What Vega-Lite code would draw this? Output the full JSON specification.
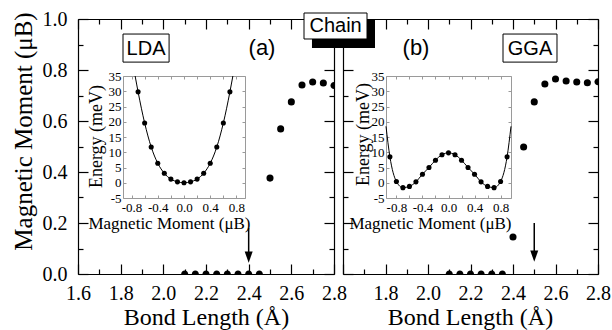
{
  "$schema": "https://vega.github.io/schema/vega-lite/v6.json",
  "width": 612,
  "height": 330,
  "padding": 0,
  "autosize": "none",
  "background": "white",
  "config": {
    "font": "Liberation Serif",
    "view": {"stroke": null},
    "axis": {
      "grid": false,
      "labelFont": "Liberation Serif",
      "titleFont": "Liberation Serif",
      "labelColor": "black",
      "titleColor": "black",
      "titleFontWeight": "normal",
      "labelFlush": false,
      "labelOverlap": false,
      "labelBound": false
    }
  },
  "datasets": {
    "lda": [
      {"bond": 2.1, "moment": 0}, {"bond": 2.15, "moment": 0}, {"bond": 2.2, "moment": 0},
      {"bond": 2.25, "moment": 0}, {"bond": 2.3, "moment": 0}, {"bond": 2.35, "moment": 0},
      {"bond": 2.4, "moment": 0}, {"bond": 2.45, "moment": 0}, {"bond": 2.5, "moment": 0.376},
      {"bond": 2.55, "moment": 0.569}, {"bond": 2.6, "moment": 0.675}, {"bond": 2.65, "moment": 0.741},
      {"bond": 2.7, "moment": 0.753}, {"bond": 2.75, "moment": 0.749}, {"bond": 2.8, "moment": 0.739}
    ],
    "gga": [
      {"bond": 2.1, "moment": 0}, {"bond": 2.15, "moment": 0}, {"bond": 2.2, "moment": 0},
      {"bond": 2.25, "moment": 0}, {"bond": 2.3, "moment": 0}, {"bond": 2.35, "moment": 0},
      {"bond": 2.4, "moment": 0.145}, {"bond": 2.45, "moment": 0.498}, {"bond": 2.5, "moment": 0.675},
      {"bond": 2.55, "moment": 0.745}, {"bond": 2.6, "moment": 0.765}, {"bond": 2.65, "moment": 0.757},
      {"bond": 2.7, "moment": 0.753}, {"bond": 2.75, "moment": 0.75}, {"bond": 2.8, "moment": 0.754}
    ],
    "ldaInset": [
      {"mu": -0.7, "energy": 29.8}, {"mu": -0.6, "energy": 19.6}, {"mu": -0.5, "energy": 11.7},
      {"mu": -0.4, "energy": 6.4}, {"mu": -0.3, "energy": 3.1}, {"mu": -0.2, "energy": 1.2},
      {"mu": -0.1, "energy": 0.3}, {"mu": 0.0, "energy": 0.0}, {"mu": 0.1, "energy": 0.3},
      {"mu": 0.2, "energy": 1.2}, {"mu": 0.3, "energy": 3.1}, {"mu": 0.4, "energy": 6.4},
      {"mu": 0.5, "energy": 11.7}, {"mu": 0.6, "energy": 19.6}, {"mu": 0.7, "energy": 29.8}
    ],
    "ldaCurve": [
      {"mu": -0.745, "energy": 35}, {"mu": -0.7, "energy": 29.8}, {"mu": -0.6, "energy": 19.6},
      {"mu": -0.5, "energy": 11.7}, {"mu": -0.4, "energy": 6.4}, {"mu": -0.3, "energy": 3.1},
      {"mu": -0.2, "energy": 1.2}, {"mu": -0.1, "energy": 0.3}, {"mu": 0.0, "energy": 0.0},
      {"mu": 0.1, "energy": 0.3}, {"mu": 0.2, "energy": 1.2}, {"mu": 0.3, "energy": 3.1},
      {"mu": 0.4, "energy": 6.4}, {"mu": 0.5, "energy": 11.7}, {"mu": 0.6, "energy": 19.6},
      {"mu": 0.7, "energy": 29.8}, {"mu": 0.745, "energy": 35}
    ],
    "ggaInset": [
      {"mu": -0.9, "energy": 8.5}, {"mu": -0.8, "energy": 0.4}, {"mu": -0.7, "energy": -1.6},
      {"mu": -0.6, "energy": -1.2}, {"mu": -0.5, "energy": 0.3}, {"mu": -0.4, "energy": 2.8},
      {"mu": -0.3, "energy": 5.0}, {"mu": -0.2, "energy": 7.4}, {"mu": -0.1, "energy": 9.2},
      {"mu": 0.0, "energy": 9.8}, {"mu": 0.1, "energy": 9.2}, {"mu": 0.2, "energy": 7.4},
      {"mu": 0.3, "energy": 5.0}, {"mu": 0.4, "energy": 2.8}, {"mu": 0.5, "energy": 0.3},
      {"mu": 0.6, "energy": -1.2}, {"mu": 0.7, "energy": -1.6}, {"mu": 0.8, "energy": 0.4},
      {"mu": 0.9, "energy": 8.5}
    ],
    "ggaCurve": [
      {"mu": -0.96, "energy": 18.5}, {"mu": -0.9, "energy": 8.5}, {"mu": -0.8, "energy": 0.4},
      {"mu": -0.7, "energy": -1.6}, {"mu": -0.6, "energy": -1.2}, {"mu": -0.5, "energy": 0.3},
      {"mu": -0.4, "energy": 2.8}, {"mu": -0.3, "energy": 5.0}, {"mu": -0.2, "energy": 7.4},
      {"mu": -0.1, "energy": 9.2}, {"mu": 0.0, "energy": 9.8}, {"mu": 0.1, "energy": 9.2},
      {"mu": 0.2, "energy": 7.4}, {"mu": 0.3, "energy": 5.0}, {"mu": 0.4, "energy": 2.8},
      {"mu": 0.5, "energy": 0.3}, {"mu": 0.6, "energy": -1.2}, {"mu": 0.7, "energy": -1.6},
      {"mu": 0.8, "energy": 0.4}, {"mu": 0.9, "energy": 8.5}, {"mu": 0.96, "energy": 18.5}
    ]
  },
  "layer": [
    {
      "layer": [
        {
          "data": {"name": "lda"},
          "mark": {"type": "point", "filled": true, "color": "black", "opacity": 1, "size": 50},
          "encoding": {
            "x": {"field": "bond", "type": "quantitative",
              "scale": {"domain": [1.6, 2.8], "range": [78, 334], "nice": false, "zero": false},
              "axis": {"orient": "bottom", "offset": -56,
                "values": [1.6, 1.7, 1.8, 1.9, 2.0, 2.1, 2.2, 2.3, 2.4, 2.5, 2.6, 2.7, 2.8],
                "labelExpr": "round(datum.value*10)%2==0 ? format(datum.value,'.1f') : ''",
                "tickSize": {"condition": {"test": "round(datum.value*10)%2==0", "value": -10}, "value": -5},
                "labelFont": "Liberation Serif", "titleFont": "Liberation Serif",
                "labelPadding": 19, "labelFontSize": 20, "domainColor": "black", "tickColor": "black",
                "domainWidth": 1.2, "tickWidth": 1.2,
                "title": "Bond Length (Å)", "titleFontSize": 24, "titleX": 206, "titleY": 50,
                "titleBaseline": "alphabetic", "titleAlign": "center", "titleAngle": 0}},
            "y": {"field": "moment", "type": "quantitative",
              "scale": {"domain": [0, 1], "range": [274, 19], "nice": false, "zero": false},
              "axis": {"orient": "left", "offset": -78,
                "values": [0, 0.1, 0.2, 0.3, 0.4, 0.5, 0.6, 0.7, 0.8, 0.9, 1.0],
                "labelExpr": "round(datum.value*10)%2==0 ? format(datum.value,'.1f') : ''",
                "tickSize": {"condition": {"test": "round(datum.value*10)%2==0", "value": -10}, "value": -5},
                "labelFont": "Liberation Serif", "titleFont": "Liberation Serif",
                "labelPadding": 21, "labelFontSize": 20, "domainColor": "black", "tickColor": "black",
                "domainWidth": 1.2, "tickWidth": 1.2,
                "title": "Magnetic Moment (μB)", "titleFontSize": 25, "titleX": -47, "titleY": 131,
                "titleBaseline": "alphabetic", "titleAlign": "center", "titleAngle": -90}},
            "shape": {"condition": [
                {"test": "datum.moment == 0", "value": "M-1,0A1,1,0,0,1,1,0Z"},
                {"test": "datum.bond >= 2.79", "value": "M0,-1A1,1,0,0,0,0,1Z"}
              ], "value": "circle"}
          }
        },
        {
          "data": {"name": "lda"},
          "mark": {"type": "point", "opacity": 0},
          "encoding": {
            "x": {"field": "bond", "type": "quantitative",
              "axis": {"orient": "top", "offset": -19,
                "values": [1.6, 1.7, 1.8, 1.9, 2.0, 2.1, 2.2, 2.3, 2.4, 2.5, 2.6, 2.7, 2.8],
                "labels": false, "title": null,
                "tickSize": {"condition": {"test": "round(datum.value*10)%2==0", "value": -10}, "value": -5},
                "domainColor": "black", "tickColor": "black", "domainWidth": 1.2, "tickWidth": 1.2}},
            "y": {"field": "moment", "type": "quantitative",
              "axis": {"orient": "right", "offset": -278,
                "values": [0, 0.1, 0.2, 0.3, 0.4, 0.5, 0.6, 0.7, 0.8, 0.9, 1.0],
                "labels": false, "title": null,
                "tickSize": {"condition": {"test": "round(datum.value*10)%2==0", "value": -10}, "value": -5},
                "domainColor": "black", "tickColor": "black", "domainWidth": 1.2, "tickWidth": 1.2}}
          }
        },
        {
          "data": {"values": [{}]},
          "mark": {"type": "rule", "color": "black", "strokeWidth": 1.5},
          "encoding": {
            "x": {"datum": 2.4, "type": "quantitative", "axis": null},
            "y": {"datum": 0.18, "type": "quantitative", "axis": null},
            "y2": {"datum": 0.066}
          }
        },
        {
          "data": {"values": [{}]},
          "mark": {"type": "point", "filled": true, "color": "black", "opacity": 1, "size": 130, "shape": "M-0.7,-1L0.7,-1L0,1Z"},
          "encoding": {
            "x": {"datum": 2.4, "type": "quantitative", "axis": null},
            "y": {"datum": 0.066, "type": "quantitative", "axis": null}
          }
        },
        {
          "data": {"values": [{}]},
          "mark": {"type": "rect", "fill": "white", "stroke": "black", "strokeWidth": 1},
          "encoding": {
            "x": {"datum": 1.811, "type": "quantitative", "axis": null},
            "x2": {"datum": 2.027},
            "y": {"datum": 0.941, "type": "quantitative", "axis": null},
            "y2": {"datum": 0.831}
          }
        },
        {
          "data": {"values": [{}]},
          "mark": {"type": "text", "text": "LDA", "font": "Liberation Sans", "fontSize": 20, "color": "black", "align": "center", "baseline": "middle"},
          "encoding": {
            "x": {"datum": 1.919, "type": "quantitative", "axis": null},
            "y": {"datum": 0.884, "type": "quantitative", "axis": null}
          }
        },
        {
          "data": {"values": [{}]},
          "mark": {"type": "text", "text": "(a)", "font": "Liberation Sans", "fontSize": 22, "color": "black", "align": "center", "baseline": "middle"},
          "encoding": {
            "x": {"datum": 2.4625, "type": "quantitative", "axis": null},
            "y": {"datum": 0.886, "type": "quantitative", "axis": null}
          }
        }
      ],
      "resolve": {"axis": {"x": "independent", "y": "independent"}}
    },
    {
      "layer": [
        {
          "data": {"name": "ldaCurve"},
          "mark": {"type": "line", "color": "black", "strokeWidth": 1, "interpolate": "monotone"},
          "encoding": {
            "x": {"field": "mu", "type": "quantitative",
              "scale": {"domain": [-0.93, 0.93], "range": [123, 245], "nice": false, "zero": false},
              "axis": {"orient": "bottom", "offset": -132,
                "values": [-0.8, -0.6, -0.4, -0.2, 0, 0.2, 0.4, 0.6, 0.8],
                "labelExpr": "round(datum.value*10)%4==0 ? replace(format(datum.value,'.1f'),'−','-') : ''",
                "labelFont": "Liberation Serif", "titleFont": "Liberation Serif",
                "tickSize": -3, "labelPadding": 6, "labelFontSize": 13,
                "domainColor": "#9a9a9a", "tickColor": "#9a9a9a", "domainWidth": 1, "tickWidth": 1,
                "title": "Magnetic Moment (μB)", "titleFontSize": 17, "titleX": 169, "titleY": 30,
                "titleBaseline": "alphabetic", "titleAlign": "center", "titleAngle": 0}},
            "y": {"field": "energy", "type": "quantitative",
              "scale": {"domain": [-5, 35], "range": [198, 76], "nice": false, "zero": false},
              "axis": {"orient": "left", "offset": -123,
                "values": [-5, 0, 5, 10, 15, 20, 25, 30, 35],
                "labelExpr": "replace(format(datum.value,'d'),'−','-')",
                "labelFont": "Liberation Serif", "titleFont": "Liberation Serif",
                "tickSize": -3, "labelPadding": 5, "labelFontSize": 13,
                "domainColor": "#9a9a9a", "tickColor": "#9a9a9a", "domainWidth": 1, "tickWidth": 1,
                "title": "Energy (meV)", "titleFontSize": 18, "titleX": -22, "titleY": 136,
                "titleBaseline": "alphabetic", "titleAlign": "center", "titleAngle": -90}}
          }
        },
        {
          "data": {"name": "ldaInset"},
          "mark": {"type": "point", "filled": true, "color": "black", "opacity": 1, "size": 26},
          "encoding": {
            "x": {"field": "mu", "type": "quantitative",
              "axis": {"orient": "top", "offset": -76,
                "values": [-0.8, -0.6, -0.4, -0.2, 0, 0.2, 0.4, 0.6, 0.8],
                "labels": false, "title": null, "tickSize": -3,
                "domainColor": "#9a9a9a", "tickColor": "#9a9a9a", "domainWidth": 1, "tickWidth": 1}},
            "y": {"field": "energy", "type": "quantitative",
              "axis": {"orient": "right", "offset": -367,
                "values": [-5, 0, 5, 10, 15, 20, 25, 30, 35],
                "labels": false, "title": null, "tickSize": -3,
                "domainColor": "#9a9a9a", "tickColor": "#9a9a9a", "domainWidth": 1, "tickWidth": 1}}
          }
        }
      ],
      "resolve": {"axis": {"x": "independent", "y": "independent"}}
    },
    {
      "layer": [
        {
          "data": {"name": "gga"},
          "mark": {"type": "point", "filled": true, "color": "black", "opacity": 1, "size": 50},
          "encoding": {
            "x": {"field": "bond", "type": "quantitative",
              "scale": {"domain": [1.6, 2.8], "range": [343, 598], "nice": false, "zero": false},
              "axis": {"orient": "bottom", "offset": -56,
                "values": [1.6, 1.7, 1.8, 1.9, 2.0, 2.1, 2.2, 2.3, 2.4, 2.5, 2.6, 2.7, 2.8],
                "labelExpr": "round(datum.value*10)%2==0 && datum.value > 1.65 ? format(datum.value,'.1f') : ''",
                "tickSize": {"condition": {"test": "round(datum.value*10)%2==0", "value": -10}, "value": -5},
                "labelFont": "Liberation Serif", "titleFont": "Liberation Serif",
                "labelPadding": 19, "labelFontSize": 20, "domainColor": "black", "tickColor": "black",
                "domainWidth": 1.2, "tickWidth": 1.2,
                "title": "Bond Length (Å)", "titleFontSize": 24, "titleX": 470, "titleY": 50,
                "titleBaseline": "alphabetic", "titleAlign": "center", "titleAngle": 0}},
            "y": {"field": "moment", "type": "quantitative",
              "scale": {"domain": [0, 1], "range": [274, 19], "nice": false, "zero": false},
              "axis": {"orient": "left", "offset": -343,
                "values": [0, 0.1, 0.2, 0.3, 0.4, 0.5, 0.6, 0.7, 0.8, 0.9, 1.0],
                "labels": false, "title": null,
                "tickSize": {"condition": {"test": "round(datum.value*10)%2==0", "value": -10}, "value": -5},
                "domainColor": "black", "tickColor": "black", "domainWidth": 1.2, "tickWidth": 1.2}},
            "shape": {"condition": [
                {"test": "datum.moment == 0", "value": "M-1,0A1,1,0,0,1,1,0Z"},
                {"test": "datum.bond >= 2.79", "value": "M0,-1A1,1,0,0,0,0,1Z"}
              ], "value": "circle"}
          }
        },
        {
          "data": {"name": "gga"},
          "mark": {"type": "point", "opacity": 0},
          "encoding": {
            "x": {"field": "bond", "type": "quantitative",
              "axis": {"orient": "top", "offset": -19,
                "values": [1.6, 1.7, 1.8, 1.9, 2.0, 2.1, 2.2, 2.3, 2.4, 2.5, 2.6, 2.7, 2.8],
                "labels": false, "title": null,
                "tickSize": {"condition": {"test": "round(datum.value*10)%2==0", "value": -10}, "value": -5},
                "domainColor": "black", "tickColor": "black", "domainWidth": 1.2, "tickWidth": 1.2}},
            "y": {"field": "moment", "type": "quantitative",
              "axis": {"orient": "right", "offset": -14,
                "values": [0, 0.1, 0.2, 0.3, 0.4, 0.5, 0.6, 0.7, 0.8, 0.9, 1.0],
                "labels": false, "title": null,
                "tickSize": {"condition": {"test": "round(datum.value*10)%2==0", "value": -10}, "value": -5},
                "domainColor": "black", "tickColor": "black", "domainWidth": 1.2, "tickWidth": 1.2}}
          }
        },
        {
          "data": {"values": [{}]},
          "mark": {"type": "rule", "color": "black", "strokeWidth": 1.5},
          "encoding": {
            "x": {"datum": 2.5, "type": "quantitative", "axis": null},
            "y": {"datum": 0.2, "type": "quantitative", "axis": null},
            "y2": {"datum": 0.07}
          }
        },
        {
          "data": {"values": [{}]},
          "mark": {"type": "point", "filled": true, "color": "black", "opacity": 1, "size": 130, "shape": "M-0.7,-1L0.7,-1L0,1Z"},
          "encoding": {
            "x": {"datum": 2.5, "type": "quantitative", "axis": null},
            "y": {"datum": 0.07, "type": "quantitative", "axis": null}
          }
        },
        {
          "data": {"values": [{}]},
          "mark": {"type": "rect", "fill": "white", "stroke": "black", "strokeWidth": 1},
          "encoding": {
            "x": {"datum": 2.353, "type": "quantitative", "axis": null},
            "x2": {"datum": 2.607},
            "y": {"datum": 0.941, "type": "quantitative", "axis": null},
            "y2": {"datum": 0.831}
          }
        },
        {
          "data": {"values": [{}]},
          "mark": {"type": "text", "text": "GGA", "font": "Liberation Sans", "fontSize": 20, "color": "black", "align": "center", "baseline": "middle"},
          "encoding": {
            "x": {"datum": 2.48, "type": "quantitative", "axis": null},
            "y": {"datum": 0.884, "type": "quantitative", "axis": null}
          }
        },
        {
          "data": {"values": [{}]},
          "mark": {"type": "text", "text": "(b)", "font": "Liberation Sans", "fontSize": 22, "color": "black", "align": "center", "baseline": "middle"},
          "encoding": {
            "x": {"datum": 1.9435, "type": "quantitative", "axis": null},
            "y": {"datum": 0.886, "type": "quantitative", "axis": null}
          }
        },
        {
          "data": {"values": [{}]},
          "mark": {"type": "rect", "fill": "black"},
          "encoding": {
            "x": {"datum": 1.454, "type": "quantitative", "axis": null},
            "x2": {"datum": 1.7506},
            "y": {"datum": 1.0, "type": "quantitative", "axis": null},
            "y2": {"datum": 0.886}
          }
        },
        {
          "data": {"values": [{}]},
          "mark": {"type": "rect", "fill": "white", "stroke": "black", "strokeWidth": 1},
          "encoding": {
            "x": {"datum": 1.4165, "type": "quantitative", "axis": null},
            "x2": {"datum": 1.713},
            "y": {"datum": 1.0235, "type": "quantitative", "axis": null},
            "y2": {"datum": 0.9216}
          }
        },
        {
          "data": {"values": [{}]},
          "mark": {"type": "text", "text": "Chain", "font": "Liberation Sans", "fontSize": 20, "color": "black", "align": "center", "baseline": "middle"},
          "encoding": {
            "x": {"datum": 1.565, "type": "quantitative", "axis": null},
            "y": {"datum": 0.971, "type": "quantitative", "axis": null}
          }
        }
      ],
      "resolve": {"axis": {"x": "independent", "y": "independent"}}
    },
    {
      "layer": [
        {
          "data": {"name": "ggaCurve"},
          "mark": {"type": "line", "color": "black", "strokeWidth": 1, "interpolate": "monotone"},
          "encoding": {
            "x": {"field": "mu", "type": "quantitative",
              "scale": {"domain": [-0.96, 0.96], "range": [386, 511], "nice": false, "zero": false},
              "axis": {"orient": "bottom", "offset": -132,
                "values": [-0.8, -0.6, -0.4, -0.2, 0, 0.2, 0.4, 0.6, 0.8],
                "labelExpr": "round(datum.value*10)%4==0 ? replace(format(datum.value,'.1f'),'−','-') : ''",
                "labelFont": "Liberation Serif", "titleFont": "Liberation Serif",
                "tickSize": -3, "labelPadding": 6, "labelFontSize": 13,
                "domainColor": "#9a9a9a", "tickColor": "#9a9a9a", "domainWidth": 1, "tickWidth": 1,
                "title": "Magnetic Moment (μB)", "titleFontSize": 17, "titleX": 430, "titleY": 30,
                "titleBaseline": "alphabetic", "titleAlign": "center", "titleAngle": 0}},
            "y": {"field": "energy", "type": "quantitative",
              "scale": {"domain": [-5, 35], "range": [198, 76], "nice": false, "zero": false},
              "axis": {"orient": "left", "offset": -386,
                "values": [-5, 0, 5, 10, 15, 20, 25, 30, 35],
                "labelExpr": "replace(format(datum.value,'d'),'−','-')",
                "labelFont": "Liberation Serif", "titleFont": "Liberation Serif",
                "tickSize": -3, "labelPadding": 5, "labelFontSize": 13,
                "domainColor": "#9a9a9a", "tickColor": "#9a9a9a", "domainWidth": 1, "tickWidth": 1,
                "title": "Energy (meV)", "titleFontSize": 18, "titleX": -18, "titleY": 134,
                "titleBaseline": "alphabetic", "titleAlign": "center", "titleAngle": -90}}
          }
        },
        {
          "data": {"name": "ggaInset"},
          "mark": {"type": "point", "filled": true, "color": "black", "opacity": 1, "size": 26},
          "encoding": {
            "x": {"field": "mu", "type": "quantitative",
              "axis": {"orient": "top", "offset": -76,
                "values": [-0.8, -0.6, -0.4, -0.2, 0, 0.2, 0.4, 0.6, 0.8],
                "labels": false, "title": null, "tickSize": -3,
                "domainColor": "#9a9a9a", "tickColor": "#9a9a9a", "domainWidth": 1, "tickWidth": 1}},
            "y": {"field": "energy", "type": "quantitative",
              "axis": {"orient": "right", "offset": -101,
                "values": [-5, 0, 5, 10, 15, 20, 25, 30, 35],
                "labels": false, "title": null, "tickSize": -3,
                "domainColor": "#9a9a9a", "tickColor": "#9a9a9a", "domainWidth": 1, "tickWidth": 1}}
          }
        }
      ],
      "resolve": {"axis": {"x": "independent", "y": "independent"}}
    }
  ],
  "resolve": {
    "scale": {"x": "independent", "y": "independent"},
    "axis": {"x": "independent", "y": "independent"}
  }
}
